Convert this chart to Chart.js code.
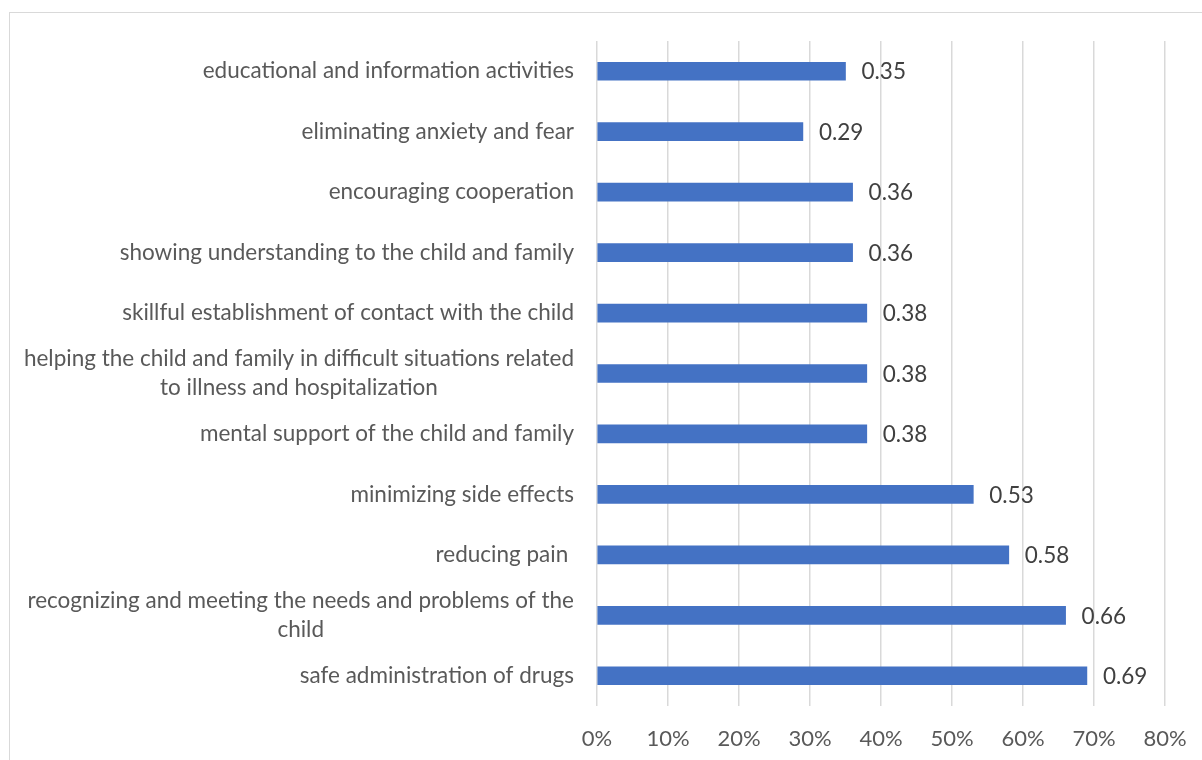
<!DOCTYPE html>
<html>
<head>
<meta charset="utf-8">
<script src="https://cdn.jsdelivr.net/npm/chart.js@4.4.0/dist/chart.umd.min.js"></script>
<style>
  html, body { margin: 0; padding: 0; background: #fff; }
  canvas { display: block; }
</style>
</head>
<body>
<canvas id="grafico" width="1202" height="760"></canvas>
<script>
// categorias (de cima para baixo) e valores
const categorias = [
    'educational and information activities',
    'eliminating anxiety and fear',
    'encouraging cooperation',
    'showing understanding to the child and family',
    'skillful establishment of contact with the child',
    ['helping the child and family in difficult situations related', 'to illness and hospitalization'],
    'mental support of the child and family',
    'minimizing side effects',
    'reducing pain ',
    ['recognizing and meeting the needs and problems of the', 'child'],
    'safe administration of drugs'
];
const valores = [0.35, 0.29, 0.36, 0.36, 0.38, 0.38, 0.38, 0.53, 0.58, 0.66, 0.69];
const ticksX = [0, 0.1, 0.2, 0.3, 0.4, 0.5, 0.6, 0.7, 0.8];

const FONTE = 'Lato, "Open Sans", sans-serif';

// moldura cinza em volta do gráfico
const moldura = {
    id: 'moldura',
    beforeDraw(chart) {
        const ctx = chart.ctx;
        ctx.save();
        ctx.fillStyle = '#ffffff';
        ctx.fillRect(0, 0, chart.width, chart.height);
        ctx.strokeStyle = '#d9d9d9';
        ctx.lineWidth = 1;
        ctx.strokeRect(9.5, 12.5, 1300, 900);
        ctx.restore();
    }
};

// rótulos do eixo Y (linhas quebradas ficam centralizadas entre si)
const rotulosY = {
    id: 'rotulosY',
    afterDraw(chart) {
        const ctx = chart.ctx;
        const escala = chart.scales.y;
        const direita = 574;
        const alturaLinha = 29;
        ctx.save();
        ctx.font = '22.5px ' + FONTE;
        ctx.fillStyle = '#595959';
        ctx.textBaseline = 'middle';
        categorias.forEach((rotulo, i) => {
            const y = escala.getPixelForValue(i);
            const linhas = Array.isArray(rotulo) ? rotulo : [rotulo];
            if (linhas.length === 1) {
                ctx.textAlign = 'right';
                ctx.fillText(linhas[0], direita, y);
                return;
            }
            const maxW = Math.max(...linhas.map(l => ctx.measureText(l).width));
            ctx.textAlign = 'center';
            linhas.forEach((l, j) => {
                ctx.fillText(l, direita - maxW / 2, y + (j - (linhas.length - 1) / 2) * alturaLinha);
            });
        });
        ctx.restore();
    }
};

// valores ao lado de cada barra
const rotulosValor = {
    id: 'rotulosValor',
    afterDatasetsDraw(chart) {
        const ctx = chart.ctx;
        const meta = chart.getDatasetMeta(0);
        ctx.save();
        ctx.font = '22.5px ' + FONTE;
        ctx.fillStyle = '#404040';
        ctx.textAlign = 'left';
        ctx.textBaseline = 'middle';
        meta.data.forEach((barra, i) => {
            ctx.fillText(valores[i].toFixed(2), barra.x + 16, barra.y + 1);
        });
        ctx.restore();
    }
};

new Chart(document.getElementById('grafico').getContext('2d'), {
    type: 'bar',
    data: {
        labels: categorias,
        datasets: [{
            data: valores,
            backgroundColor: '#4472C4',
            borderWidth: 0,
            barThickness: 18
        }]
    },
    options: {
        indexAxis: 'y',
        responsive: false,
        animation: false,
        layout: { padding: { top: 41, right: 37, bottom: 0, left: 0 } },
        plugins: {
            legend: { display: false },
            tooltip: { enabled: false }
        },
        scales: {
            x: {
                min: 0,
                max: 0.8,
                afterBuildTicks: s => { s.ticks = ticksX.map(v => ({ value: v })); },
                afterFit: s => {
                    s.height = 54;
                    s.paddingLeft = 0;
                    s.paddingRight = 0;
                },
                grid: { color: '#d9d9d9', lineWidth: 1.5, drawTicks: false },
                border: { display: false },
                ticks: {
                    padding: 20,
                    color: '#595959',
                    font: { family: FONTE, size: 22 },
                    callback: v => Math.round(v * 100) + '%'
                }
            },
            y: {
                afterFit: s => { s.width = 597; },
                grid: { display: false },
                border: { display: false },
                ticks: { display: false }
            }
        }
    },
    plugins: [moldura, rotulosY, rotulosValor]
});
</script>
</body>
</html>
